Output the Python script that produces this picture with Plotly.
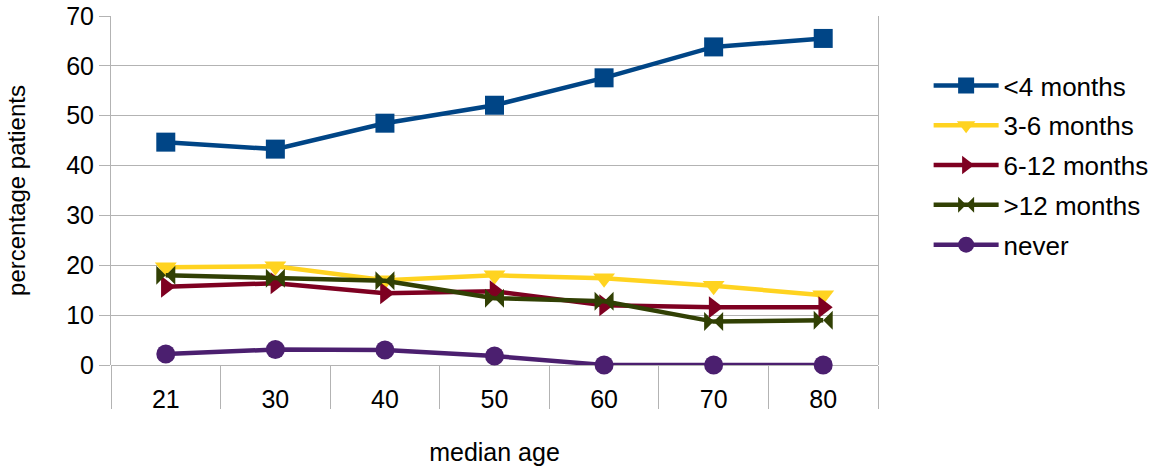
import plotly.graph_objects as go

ages = ["21", "30", "40", "50", "60", "70", "80"]
lt4 = [44.7, 43.3, 48.5, 52.1, 57.6, 63.8, 65.5]
m3_6 = [19.6, 19.8, 17.0, 18.0, 17.4, 15.9, 14.0]
m6_12 = [15.7, 16.4, 14.4, 14.8, 12.0, 11.6, 11.6]
gt12 = [18.0, 17.4, 16.9, 13.4, 12.8, 8.7, 9.0]
never = [2.2, 3.1, 3.0, 1.8, 0.0, 0.0, 0.0]

series = [
    ("<4 months", lt4, "#004586", "square"),
    ("3-6 months", m3_6, "#ffd320", "triangle-down"),
    ("6-12 months", m6_12, "#7e0021", "triangle-right"),
    (">12 months", gt12, "#314004", "bowtie"),
    ("never", never, "#4b1f6f", "circle"),
]

fig = go.Figure()
for i, (name, vals, col, sym) in enumerate(series):
    fig.add_trace(go.Scatter(
        x=ages, y=vals, name=name, mode="lines+markers",
        line=dict(color=col, width=4.5),
        marker=dict(symbol=sym, size=19, color=col, line=dict(width=0)),
        legendgroup=f"g{i}", cliponaxis=False,
    ))

font = "Liberation Sans, Arial, sans-serif"
fig.update_layout(
    width=1154, height=468,
    margin=dict(l=111, r=276, t=16, b=103, autoexpand=False),
    paper_bgcolor="white", plot_bgcolor="white",
    font=dict(family=font, size=25, color="black"),
    showlegend=True,
    legend=dict(
        x=1.066, y=0.868, xanchor="left", yanchor="top",
        font=dict(size=26), tracegroupgap=3, traceorder="grouped",
        itemwidth=65, bgcolor="rgba(0,0,0,0)",
    ),
    xaxis=dict(
        type="category", showgrid=False, automargin=False,
        showline=False,
        ticks="outside", ticklen=43, tickcolor="#b3b3b3", tickwidth=1,
        tickson="boundaries", ticklabelstandoff=17,
        tickfont=dict(size=25),
        title=dict(text="median age", font=dict(size=25), standoff=31),
        range=[-0.5, 6.5],
    ),
    yaxis=dict(
        range=[0, 70], dtick=10, showgrid=True, gridcolor="#b3b3b3", gridwidth=1,
        automargin=False, ticklabeloverflow="allow",
        showline=True, linecolor="#b3b3b3", linewidth=1, mirror=True,
        ticks="outside", ticklen=11, tickcolor="#b3b3b3",
        zeroline=True, zerolinecolor="#b3b3b3", zerolinewidth=1,
        tickfont=dict(size=25),
        title=dict(text="percentage patients", font=dict(size=24), standoff=33),
    ),
)

fig.write_html("out.html", config={"displayModeBar": False},
               post_script="document.body.style.margin='0px';")
